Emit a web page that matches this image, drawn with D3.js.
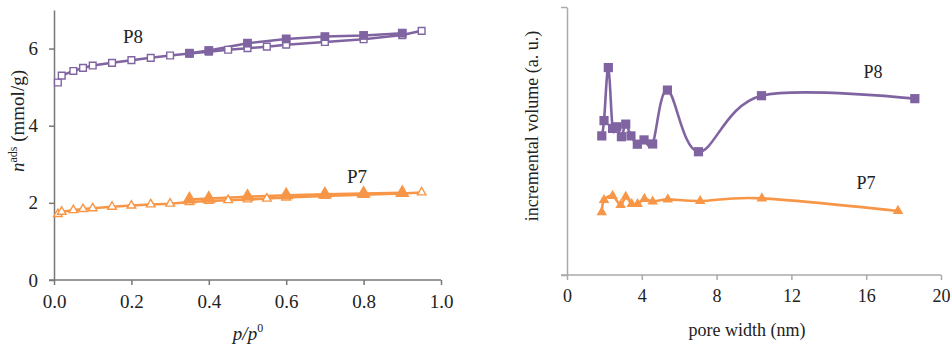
<!DOCTYPE html>
<html>
<head>
<meta charset="utf-8">
<script src="https://cdn.jsdelivr.net/npm/d3@7"></script>
<style>
  body { margin: 0; background: #fff; }
  svg { display: block; }
</style>
</head>
<body>
<div id="chart"></div>
<script>
// isotherms (left panel)
var pAds = [0.01, 0.02, 0.05, 0.075, 0.1, 0.15, 0.2, 0.25, 0.3, 0.35, 0.4, 0.45, 0.5, 0.55, 0.6, 0.7, 0.8, 0.9, 0.95];
var p8Ads = [5.12, 5.3, 5.42, 5.5, 5.56, 5.63, 5.7, 5.76, 5.82, 5.87, 5.92, 5.97, 6.01, 6.05, 6.1, 6.17, 6.24, 6.35, 6.46];
var p7Ads = [1.71, 1.77, 1.81, 1.84, 1.86, 1.9, 1.93, 1.96, 1.98, 2.02, 2.05, 2.07, 2.09, 2.11, 2.14, 2.18, 2.21, 2.24, 2.27];
var pDes = [0.9, 0.8, 0.7, 0.6, 0.5, 0.4, 0.35];
var p8Des = [6.4, 6.34, 6.31, 6.25, 6.14, 5.95, 5.88];
var p7Des = [2.26, 2.24, 2.22, 2.2, 2.16, 2.11, 2.09];
var pTicks = [0, 0.2, 0.4, 0.6, 0.8, 1];
var nTicks = [0, 2, 4, 6];

// pore size distribution (right panel)
var w8 = [1.86, 1.98, 2.21, 2.44, 2.66, 2.91, 3.14, 3.42, 3.76, 4.12, 4.58, 5.37, 7.03, 10.4, 18.6];
var v8 = [5.19, 5.76, 7.74, 5.47, 5.53, 5.16, 5.63, 5.19, 4.88, 5.04, 4.89, 6.9, 4.6, 6.69, 6.58];
var w7 = [1.86, 1.98, 2.44, 2.87, 3.14, 3.46, 3.78, 4.14, 4.58, 5.39, 7.12, 10.42, 17.7];
var v7 = [2.34, 2.8, 2.95, 2.61, 2.92, 2.65, 2.65, 2.84, 2.74, 2.82, 2.76, 2.86, 2.39];
var wTicks = [0, 4, 8, 12, 16, 20];

var purple = "#8064a2", orange = "#f79646";
var serif = "'Liberation Serif', 'Times New Roman', serif";

var svg = d3.select("#chart").append("svg")
    .attr("width", 951)
    .attr("height", 344)
    .style("font-family", serif);

function zip(xs, ys) {
    return xs.map(function (x, i) { return {x: x, y: ys[i]}; });
}

function styleAxis(g, color, size) {
    g.selectAll("path, line").attr("stroke", color).attr("stroke-width", 1.5);
    g.selectAll("text")
        .attr("fill", "#222")
        .style("font-family", serif)
        .style("font-size", size + "px");
}

function label(x, y, txt, size) {
    return svg.append("text")
        .attr("x", x).attr("y", y)
        .attr("text-anchor", "middle")
        .attr("fill", "#222")
        .style("font-size", size + "px")
        .text(txt);
}

// ---------- left panel ----------
var xL = d3.scaleLinear().domain([0, 1]).range([54, 441]);
var yL = d3.scaleLinear().domain([0, 7]).range([280, 10]);

svg.append("g")
    .attr("transform", "translate(0,280)")
    .call(d3.axisBottom(xL).tickValues(pTicks).tickFormat(d3.format(".1f")).tickSizeInner(5).tickSizeOuter(0).tickPadding(10))
    .call(function (g) { g.select(".domain").attr("d", "M49,0H441"); })
    .call(styleAxis, "#777", 19);

svg.append("g")
    .attr("transform", "translate(54,0)")
    .call(d3.axisLeft(yL).tickValues(nTicks).tickFormat(d3.format("d")).tickSizeInner(5).tickSizeOuter(0).tickPadding(11))
    .call(styleAxis, "#777", 19);

var lineL = d3.line()
    .x(function (d) { return xL(d.x); })
    .y(function (d) { return yL(d.y); });

function isotherm(ads, des, color, shape, openSize, fillSize) {
    var a = zip(pAds, ads), d = zip(pDes, des);
    svg.append("path").datum(a)
        .attr("d", lineL).attr("fill", "none")
        .attr("stroke", color).attr("stroke-width", 2.5);
    svg.append("path").datum(d)
        .attr("d", lineL).attr("fill", "none")
        .attr("stroke", color).attr("stroke-width", 2.5);
    svg.selectAll(null).data(a).enter().append("path")
        .attr("transform", function (p) { return "translate(" + xL(p.x) + "," + yL(p.y) + ")"; })
        .attr("d", d3.symbol().type(shape).size(openSize))
        .attr("fill", "#fff").attr("stroke", color).attr("stroke-width", 1.4);
    svg.selectAll(null).data(d).enter().append("path")
        .attr("transform", function (p) { return "translate(" + xL(p.x) + "," + yL(p.y) + ")"; })
        .attr("d", d3.symbol().type(shape).size(fillSize))
        .attr("fill", color);
}
isotherm(p8Ads, p8Des, purple, d3.symbolSquare, 45, 78);
isotherm(p7Ads, p7Des, orange, d3.symbolTriangle, 32, 90);

label(133, 43, "P8", 19);
label(357, 183, "P7", 19);

var yt = svg.append("text")
    .attr("transform", "translate(24,121) rotate(-90)")
    .attr("text-anchor", "middle")
    .attr("fill", "#222")
    .style("font-size", "19px");
yt.append("tspan").attr("font-style", "italic").text("n");
yt.append("tspan").style("font-size", "12px").attr("dy", "-7").text("ads");
yt.append("tspan").attr("dy", "7").text(" (mmol/g)");

var xt = svg.append("text")
    .attr("x", 248).attr("y", 340)
    .attr("text-anchor", "middle")
    .attr("fill", "#222")
    .style("font-size", "19px");
xt.append("tspan").attr("font-style", "italic").text("p/p");
xt.append("tspan").style("font-size", "12px").attr("dy", "-8").text("0");

// ---------- right panel ----------
var xR = d3.scaleLinear().domain([0, 20]).range([567, 941]);
var yR = d3.scaleLinear().domain([0, 10]).range([275, 7]);

svg.append("g")
    .attr("transform", "translate(0,275)")
    .call(d3.axisBottom(xR).tickValues(wTicks).tickSizeInner(5).tickSizeOuter(0).tickPadding(9))
    .call(function (g) { g.select(".domain").attr("d", "M561,0H941"); })
    .call(styleAxis, "#aaa", 18);

svg.append("g")
    .attr("transform", "translate(567,0)")
    .call(d3.axisLeft(yR).tickValues([0, 10]).tickFormat("").tickSizeInner(6).tickSizeOuter(0))
    .call(styleAxis, "#aaa", 18);

var lineR = d3.line()
    .x(function (d) { return xR(d.x); })
    .y(function (d) { return yR(d.y); })
    .curve(d3.curveCatmullRom.alpha(0));

function psd(ws, vs, color, shape, size) {
    var pts = zip(ws, vs);
    svg.append("path").datum(pts)
        .attr("d", lineR).attr("fill", "none")
        .attr("stroke", color).attr("stroke-width", 2.6);
    svg.selectAll(null).data(pts).enter().append("path")
        .attr("transform", function (p) { return "translate(" + xR(p.x) + "," + yR(p.y) + ")"; })
        .attr("d", d3.symbol().type(shape).size(size))
        .attr("fill", color);
}
psd(w8, v8, purple, d3.symbolSquare, 85);
psd(w7, v7, orange, d3.symbolTriangle, 48);

label(873, 78, "P8", 18);
label(866, 189, "P7", 18);

svg.append("text")
    .attr("transform", "translate(538,126) rotate(-90)")
    .attr("text-anchor", "middle")
    .attr("fill", "#222")
    .style("font-size", "18px")
    .text("incremental volume (a. u.)");

label(747, 336, "pore width (nm)", 18);
</script>
</body>
</html>
